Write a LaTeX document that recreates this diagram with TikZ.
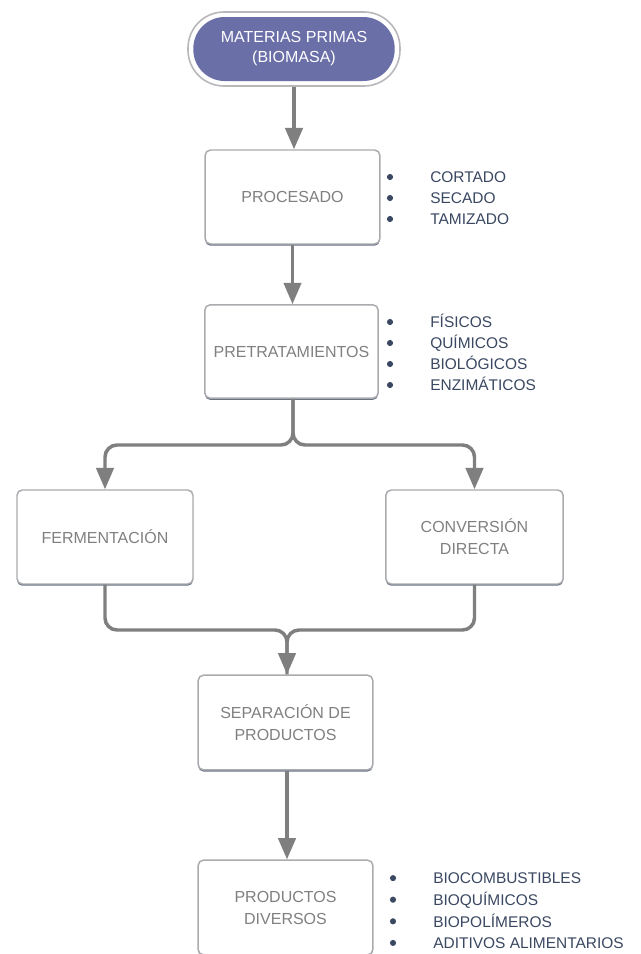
\documentclass[tikz,border=0pt]{standalone}
\usepackage{fontspec}
\setmainfont{Liberation Sans}
\usetikzlibrary{arrows.meta,shadows}
\definecolor{flowgray}{HTML}{7F7F7F}
\definecolor{boxedge}{HTML}{A9ABAF}
\definecolor{boxshade}{HTML}{4F5A6E}
\definecolor{boxtext}{HTML}{808080}
\definecolor{listtext}{HTML}{3A4862}
\definecolor{pillfill}{HTML}{6B6FA8}
\definecolor{pillring}{HTML}{B8B8BC}
\tikzset{
  stepbox/.style={draw=boxedge, line width=1.1pt, fill=white, rounded corners=4pt,
    align=center, text=boxtext, inner sep=0pt,
    font=\fontsize{12}{16.5}\selectfont,
    drop shadow={shadow xshift=0pt, shadow yshift=-1.3pt, fill=boxshade, opacity=0.85}},
  flow/.style={draw=flowgray, line width=2.6pt, rounded corners=9pt,
    -{Triangle[length=16pt,width=13pt]}},
  joinline/.style={draw=flowgray, line width=2.6pt, rounded corners=9pt},
  dot/.style={circle, fill=listtext, inner sep=0pt, minimum size=4.6pt},
  item/.style={anchor=base west, text=listtext, inner sep=0pt,
    font=\fontsize{11.6}{14}\selectfont}
}
\begin{document}
\begin{tikzpicture}[x=0.75pt, y=-0.75pt]
\clip (0,0) rectangle (640,954);
\fill[white] (0,0) rectangle (640,954);

% start terminal: pill with a light outer ring
\node[draw=pillring, line width=1.2pt, fill=white, rounded corners=27pt,
  minimum width=159pt, minimum height=55.5pt, inner sep=0pt] (ring) at (294,49) {};
\node[fill=pillfill, rounded corners=23.5pt, minimum width=151pt, minimum height=48pt,
  inner sep=0pt, text=white, align=center, font=\fontsize{12}{15}\selectfont]
  (raw) at (294,49) {MATERIAS PRIMAS\\(BIOMASA)};

% process steps
\node[stepbox, minimum width=131pt, minimum height=70.5pt] (proc) at (292.5,197) {PROCESADO};
\node[stepbox, minimum width=130pt, minimum height=70pt] (pre) at (291.5,351.5) {PRETRATAMIENTOS};
\node[stepbox, minimum width=132pt, minimum height=70.5pt] (ferm) at (105,537) {FERMENTACIÓN};
\node[stepbox, minimum width=133pt, minimum height=70.5pt] (conv) at (474.5,537) {CONVERSIÓN\\DIRECTA};
\node[stepbox, minimum width=131pt, minimum height=71pt] (sep) at (285.5,722.5) {SEPARACIÓN DE\\PRODUCTOS};
\node[stepbox, minimum width=131pt, minimum height=71pt] (prod) at (285.5,907.5) {PRODUCTOS\\DIVERSOS};

% connectors
\coordinate (split) at (293,445);
\coordinate (merge) at (287,630);
\draw[flow] (ring.south) -- (proc.north -| ring.south);
\draw[flow] (proc.south) -- (pre.north -| proc.south);
\draw[flow] (pre.south -| split) -- (split) -- (split -| ferm.north) -- (ferm.north);
\draw[flow] (pre.south -| split) -- (split) -- (split -| conv.north) -- (conv.north);
\draw[joinline] (ferm.south) -- (merge -| ferm.south) -- (merge) -- (sep.north -| merge);
\draw[flow] (conv.south) -- (merge -| conv.south) -- (merge) -- (sep.north -| merge);
\draw[flow] (sep.south -| merge) -- (prod.north -| merge);

% item lists
\foreach \t [count=\i] in {CORTADO,SECADO,TAMIZADO} {
  \node[dot] (pd\i) at (390,156+21*\i) {};
  \node[item] (pt\i) at (430,161.8+21*\i) {\t};
}
\foreach \t [count=\i] in {FÍSICOS,QUÍMICOS,BIOLÓGICOS,ENZIMÁTICOS} {
  \node[dot] (rd\i) at (390,301+21*\i) {};
  \node[item] (rt\i) at (430,306.8+21*\i) {\t};
}
\foreach \t [count=\i] in {BIOCOMBUSTIBLES,BIOQUÍMICOS,BIOPOLÍMEROS,ADITIVOS ALIMENTARIOS} {
  \node[dot] (od\i) at (393,856.5+21.6*\i) {};
  \node[item] (ot\i) at (433,862.3+21.6*\i) {\t};
}
\end{tikzpicture}
\end{document}
